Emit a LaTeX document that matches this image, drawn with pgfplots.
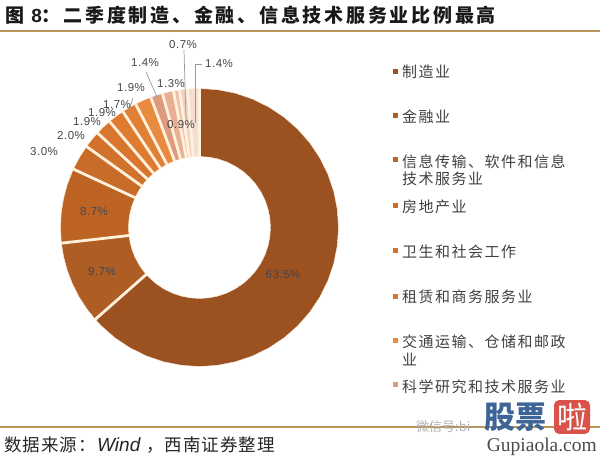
\documentclass[border=0pt]{standalone}
\usepackage{pgfplots}
\pgfplotsset{compat=1.18}
\usepgfplotslibrary{polar}
\usepackage{fontspec}
\setmainfont{Noto Sans CJK SC}
\newfontfamily\titlef[LetterSpace=14.5]{Noto Sans CJK SC}
\newfontfamily\legf[LetterSpace=10]{Noto Sans CJK SC}
\newfontfamily\srcf[AutoFakeSlant=0.25,LetterSpace=6]{Noto Sans CJK SC}
\newfontfamily\latinf{Liberation Sans}
\newfontfamily\lblf[LetterSpace=5]{Liberation Sans}
\newfontfamily\gupf{Liberation Serif}
\definecolor{sep}{HTML}{FFF1DC}
\definecolor{lbl}{HTML}{45454C}
\definecolor{c1}{HTML}{9B5120}
\definecolor{c2}{HTML}{AE5D25}
\definecolor{c3}{HTML}{BD6425}
\definecolor{c4}{HTML}{C96C2A}
\definecolor{c5}{HTML}{D0722C}
\definecolor{c6}{HTML}{D8762E}
\definecolor{c7}{HTML}{DF7B31}
\definecolor{c8}{HTML}{E08036}
\definecolor{c9}{HTML}{E88A3F}
\definecolor{c10}{HTML}{DE9A7C}
\definecolor{c11}{HTML}{E8AF95}
\definecolor{c12}{HTML}{EDC0AC}
\definecolor{c13}{HTML}{F2D2C4}
\definecolor{c14}{HTML}{F5DDD3}
\definecolor{rulec}{HTML}{B8955A}
\definecolor{wmb}{HTML}{3F6596}
\definecolor{wmr}{HTML}{D9534A}
\tikzset{lb/.style={font=\lblf\fontsize{11.5}{14}\selectfont,text=lbl,inner sep=0pt},
  lg/.style={font=\legf\fontsize{15}{17}\selectfont,text=black!75,inner sep=0pt,anchor=west}}
\begin{document}
\begin{tikzpicture}
\useasboundingbox (0,0) rectangle (600pt,457pt);
\begin{polaraxis}[at={(199.5pt,229.5pt)},anchor=center,width=279pt,height=279pt,scale only axis,
  ymin=0,ymax=139.5,xmin=-270,xmax=90,hide axis,clip=false]
\pgfplotsset{every axis plot/.append style={draw=sep,line width=0.4pt,line join=round}}
\addplot[fill=c1] coordinates {(90,139)(82.5,139)(75,139)(67.5,139)(60,139)(52.5,139)(45,139)(37.5,139)(30,139)(22.5,139)(15,139)(7.5,139)(0,139)(-7.5,139)(-15,139)(-22.5,139)(-30,139)(-37.5,139)(-45,139)(-52.5,139)(-60,139)(-67.5,139)(-75,139)(-82.5,139)(-90,139)(-97.5,139)(-105,139)(-112.5,139)(-120,139)(-127.5,139)(-135,139)(-138.6,139)
(-138.6,71)(-135,71)(-127.5,71)(-120,71)(-112.5,71)(-105,71)(-97.5,71)(-90,71)(-82.5,71)(-75,71)(-67.5,71)(-60,71)(-52.5,71)(-45,71)(-37.5,71)(-30,71)(-22.5,71)(-15,71)(-7.5,71)(0,71)(7.5,71)(15,71)(22.5,71)(30,71)(37.5,71)(45,71)(52.5,71)(60,71)(67.5,71)(75,71)(82.5,71)(90,71)} --cycle;
\addplot[fill=c2] coordinates {(-138.6,139)(-144,139)(-150,139)(-156,139)(-162,139)(-168,139)(-173.52,139)(-173.52,71)(-168,71)(-162,71)(-156,71)(-150,71)(-144,71)(-138.6,71)} --cycle;
\addplot[fill=c3] coordinates {(-173.52,139)(-180,139)(-186,139)(-192,139)(-198,139)(-204.84,139)(-204.84,71)(-198,71)(-192,71)(-186,71)(-180,71)(-173.52,71)} --cycle;
\addplot[fill=c4] coordinates {(-204.84,139)(-210,139)(-215.64,139)(-215.64,71)(-210,71)(-204.84,71)} --cycle;
\addplot[fill=c5] coordinates {(-215.64,139)(-219,139)(-222.84,139)(-222.84,71)(-219,71)(-215.64,71)} --cycle;
\addplot[fill=c6] coordinates {(-222.84,139)(-226,139)(-229.68,139)(-229.68,71)(-226,71)(-222.84,71)} --cycle;
\addplot[fill=c7] coordinates {(-229.68,139)(-233,139)(-236.52,139)(-236.52,71)(-233,71)(-229.68,71)} --cycle;
\addplot[fill=c8] coordinates {(-236.52,139)(-239.5,139)(-242.64,139)(-242.64,71)(-239.5,71)(-236.52,71)} --cycle;
\addplot[fill=c9] coordinates {(-242.64,139)(-246,139)(-249.48,139)(-249.48,71)(-246,71)(-242.64,71)} --cycle;
\addplot[fill=c10] coordinates {(-249.48,139)(-252,139)(-254.52,139)(-254.52,71)(-252,71)(-249.48,71)} --cycle;
\addplot[fill=c11] coordinates {(-254.52,139)(-257,139)(-259.2,139)(-259.2,71)(-257,71)(-254.52,71)} --cycle;
\addplot[fill=c12] coordinates {(-259.2,139)(-261.72,139)(-261.72,71)(-259.2,71)} --cycle;
\addplot[fill=c13] coordinates {(-261.72,139)(-264.96,139)(-264.96,71)(-261.72,71)} --cycle;
\addplot[fill=c14] coordinates {(-264.96,139)(-267.5,139)(-270,139)(-270,71)(-267.5,71)(-264.96,71)} --cycle;
% separators between the slices
\pgfplotsset{sepline/.style={draw=sep,line width=2.8pt,line cap=butt}}
\addplot[sepline] coordinates {(90,70.5)(90,139.5)};
\addplot[sepline] coordinates {(-138.6,70.5)(-138.6,139.5)};
\addplot[sepline] coordinates {(-173.52,70.5)(-173.52,139.5)};
\addplot[sepline] coordinates {(-204.84,70.5)(-204.84,139.5)};
\addplot[sepline] coordinates {(-215.64,70.5)(-215.64,139.5)};
\addplot[sepline] coordinates {(-222.84,70.5)(-222.84,139.5)};
\addplot[sepline] coordinates {(-229.68,70.5)(-229.68,139.5)};
\addplot[sepline] coordinates {(-236.52,70.5)(-236.52,139.5)};
\addplot[sepline] coordinates {(-242.64,70.5)(-242.64,139.5)};
\addplot[sepline] coordinates {(-249.48,70.5)(-249.48,139.5)};
\addplot[sepline] coordinates {(-254.52,70.5)(-254.52,139.5)};
\addplot[sepline] coordinates {(-259.2,70.5)(-259.2,139.5)};
\addplot[sepline] coordinates {(-261.72,70.5)(-261.72,139.5)};
\addplot[sepline] coordinates {(-264.96,70.5)(-264.96,139.5)};
\end{polaraxis}
\begin{axis}[at={(0pt,0pt)},anchor=south west,width=600pt,height=457pt,scale only axis,
  xmin=0,xmax=600,ymin=0,ymax=457,y dir=reverse,hide axis,clip=false]
% rules
\addplot[rulec,line width=1.6pt] coordinates {(0,31)(600,31)};
\addplot[rulec,line width=1.6pt] coordinates {(0,427)(600,427)};
% leaders
\addplot[gray!80,line width=0.7pt] coordinates {(146,72)(157,97)};
\addplot[gray!80,line width=0.7pt] coordinates {(184,50)(186,120)};
\addplot[gray!80,line width=0.7pt] coordinates {(202,64)(195,64)(195,123)};
\addplot[gray!80,line width=0.7pt] coordinates {(133,98)(129,110)};
% legend
\addplot[only marks,mark=square*,mark size=1.8pt,color=c1] coordinates {(395,71)};
\addplot[only marks,mark=square*,mark size=1.8pt,color=c2] coordinates {(395,115)};
\addplot[only marks,mark=square*,mark size=1.8pt,color=c3] coordinates {(395,159)};
\addplot[only marks,mark=square*,mark size=1.8pt,color=c4] coordinates {(395,205)};
\addplot[only marks,mark=square*,mark size=1.8pt,color=c5] coordinates {(395,250)};
\addplot[only marks,mark=square*,mark size=1.8pt,color=c6] coordinates {(395,296)};
\addplot[only marks,mark=square*,mark size=1.8pt,color=c9] coordinates {(395,340)};
\addplot[only marks,mark=square*,mark size=1.8pt,color=c10] coordinates {(395,384)};
% data labels
\node[lb] at (axis cs:283,275) {63.5\%};
\node[lb] at (axis cs:102,272) {9.7\%};
\node[lb] at (axis cs:94,212) {8.7\%};
\node[lb] at (axis cs:44,152) {3.0\%};
\node[lb] at (axis cs:71,136) {2.0\%};
\node[lb] at (axis cs:87,122) {1.9\%};
\node[lb] at (axis cs:102,113) {1.9\%};
\node[lb] at (axis cs:117,105) {1.7\%};
\node[lb] at (axis cs:131,88) {1.9\%};
\node[lb] at (axis cs:145,63) {1.4\%};
\node[lb] at (axis cs:171,84) {1.3\%};
\node[lb] at (axis cs:183,45) {0.7\%};
\node[lb] at (axis cs:181,125) {0.9\%};
\node[lb] at (axis cs:219,64) {1.4\%};
% legend text
\node[lg] at (axis cs:402,72) {制造业};
\node[lg] at (axis cs:402,117) {金融业};
\node[lg] at (axis cs:402,162) {信息传输、软件和信息};
\node[lg] at (axis cs:402,179) {技术服务业};
\node[lg] at (axis cs:402,207) {房地产业};
\node[lg] at (axis cs:402,252) {卫生和社会工作};
\node[lg] at (axis cs:402,297) {租赁和商务服务业};
\node[lg] at (axis cs:402,342) {交通运输、仓储和邮政};
\node[lg] at (axis cs:402,359) {业};
\node[lg] at (axis cs:402,387) {科学研究和技术服务业};
% title
\node[anchor=west,inner sep=0pt,font=\titlef\bfseries\fontsize{19}{21}\selectfont,text=black!90] at (axis cs:5,15) {图 {\latinf\bfseries 8}：二季度制造、金融、信息技术服务业比例最高};
% source
\node[anchor=west,inner sep=0pt,font=\srcf\fontsize{17.5}{19}\selectfont,text=black!85] at (axis cs:4,445) {数据来源：};
\node[anchor=west,inner sep=0pt,font=\latinf\itshape\fontsize{19}{20}\selectfont,text=black!85] at (axis cs:97,445) {Wind};
\node[anchor=west,inner sep=0pt,font=\srcf\fontsize{17.5}{19}\selectfont,text=black!85] at (axis cs:146,445) {，西南证券整理};
% watermark
\node[anchor=west,inner sep=0pt,font=\fontsize{13}{15}\selectfont,text=gray!60] at (axis cs:416,427) {微信号:bi};
\node[anchor=center,inner sep=0pt,font=\bfseries\fontsize{31}{33}\selectfont,text=wmb] at (axis cs:515,417) {股票};
\node[anchor=center,inner sep=3pt,rounded corners=5pt,fill=wmr,font=\fontsize{30}{32}\selectfont,text=white] at (axis cs:572,417) {啦};
\node[anchor=east,inner sep=0pt,font=\gupf\fontsize{19.5}{21}\selectfont,text=black!70] at (axis cs:597,447) {Gupiaola.com};
\end{axis}
\end{tikzpicture}
\end{document}
